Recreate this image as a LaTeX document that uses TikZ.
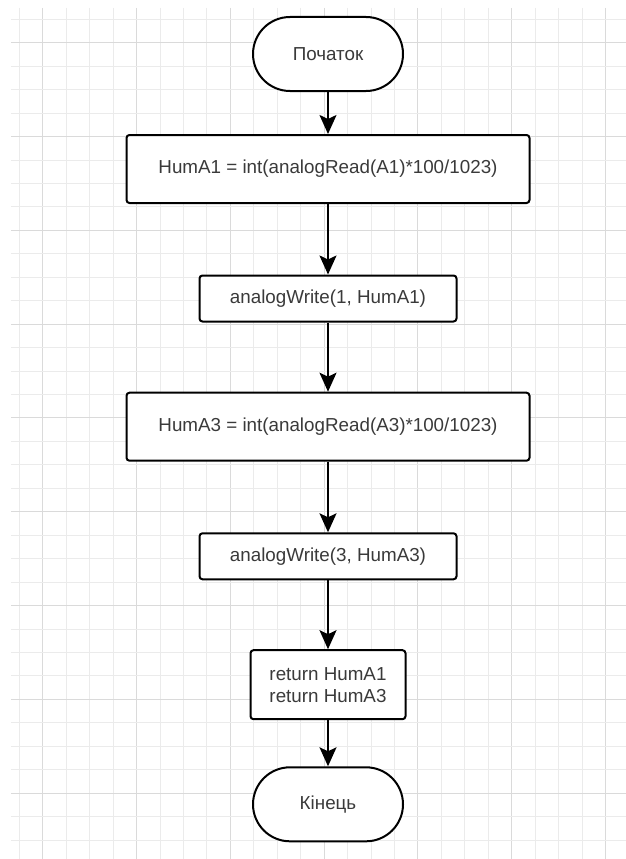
\documentclass[tikz,border=0pt]{standalone}
\usepackage{fontspec}
\setmainfont{Liberation Sans}
\usetikzlibrary{arrows.meta}
\definecolor{gridminor}{HTML}{EBEBEB}
\definecolor{gridmajor}{HTML}{DADADA}
\definecolor{txt}{HTML}{3A3A3A}
\begin{document}
\begin{tikzpicture}[x=1pt,y=-1pt,
  base/.style={draw, line width=2pt, fill=white, text=txt, inner sep=0pt,
    align=center, font=\fontsize{18.8}{22}\selectfont},
  term/.style={base, rounded corners=37pt, minimum width=150pt, minimum height=74pt},
  proc/.style={base, rounded corners=3pt},
  flow/.style={line width=2pt, -{Stealth[length=19pt,width=17pt,inset=4pt]}}]
\useasboundingbox (0,0) rectangle (626,859);
\fill[white] (0,0) rectangle (626,859);
% background grid: a heavier line every fourth cell
\foreach \k in {0,...,25}{
  \pgfmathtruncatemacro\m{mod(\k,4)}
  \ifnum\m=1 \def\gc{gridmajor}\else\def\gc{gridminor}\fi
  \draw[\gc, line width=1pt] (19.3+23.45*\k, 8) -- (19.3+23.45*\k, 859);
}
\foreach \k in {0,...,35}{
  \pgfmathtruncatemacro\m{mod(\k,4)}
  \ifnum\m=1 \def\gc{gridmajor}\else\def\gc{gridminor}\fi
  \draw[\gc, line width=1pt] (11, 19.3+23.45*\k) -- (626, 19.3+23.45*\k);
}
% flowchart
\node[term] (start) at (328,54) {Початок};
\node[proc, minimum width=403pt, minimum height=68pt] (b1) at (328,169) {HumA1 = int(analogRead(A1)*100/1023)};
\node[proc, minimum width=257pt, minimum height=46pt] (b2) at (328,298.5) {analogWrite(1, HumA1)};
\node[proc, minimum width=403pt, minimum height=68pt] (b3) at (328,426.7) {HumA3 = int(analogRead(A3)*100/1023)};
\node[proc, minimum width=257pt, minimum height=46pt] (b4) at (328,556.3) {analogWrite(3, HumA3)};
\node[proc, minimum width=155pt, minimum height=69pt] (b5) at (328,684.7) {return HumA1\\return HumA3};
\node[term] (end) at (328,804.3) {Кінець};
\draw[flow] (start) -- (b1);
\draw[flow] (b1) -- (b2);
\draw[flow] (b2) -- (b3);
\draw[flow] (b3) -- (b4);
\draw[flow] (b4) -- (b5);
\draw[flow] (b5) -- (end);
\end{tikzpicture}
\end{document}
